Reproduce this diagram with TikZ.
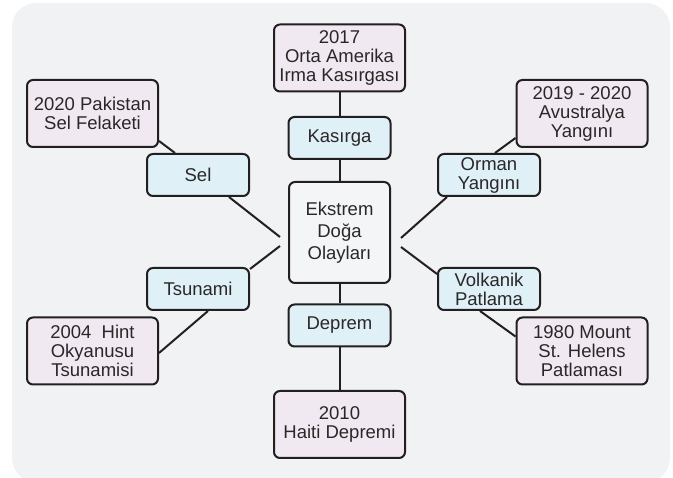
\documentclass[tikz,border=0pt]{standalone}
\usepackage{fontspec}
\setmainfont{Liberation Sans}
\definecolor{panel}{HTML}{F1F2F4}
\definecolor{ink}{HTML}{231F20}
\definecolor{txt}{HTML}{2A2728}
\definecolor{pinkfill}{HTML}{F0E9F1}
\definecolor{bluefill}{HTML}{DFF0F7}
\definecolor{centerfill}{HTML}{F4F5F7}
\tikzset{
  basebox/.style={draw=ink, line width=2pt, rounded corners=6pt, inner sep=0pt,
    align=center, text=txt, font=\fontsize{18.5}{19}\selectfont},
  eventbox/.style={basebox, fill=pinkfill, minimum width=131pt, minimum height=67pt},
  catbox/.style={basebox, fill=bluefill, minimum width=102pt, minimum height=42pt},
  hubbox/.style={basebox, fill=centerfill, minimum width=101pt, minimum height=101pt,
    font=\fontsize{18.5}{22}\selectfont},
  link/.style={draw=ink, line width=2pt}
}
\begin{document}
\begin{tikzpicture}[x=1pt,y=-1pt]
\useasboundingbox (0,0) rectangle (673,478);
\fill[panel, rounded corners=24pt] (12,3) rectangle (670,482);

\node[hubbox] (hub) at (339.5,232.5) {Ekstrem\\Doğa\\Olayları};

\node[catbox] (kas) at (339.5,138) {Kasırga};
\node[catbox] (dep) at (339.5,325.5) {Deprem};
\node[catbox] (sel) at (198,175) {Sel};
\node[catbox] (tsu) at (198,289) {Tsunami};
\node[catbox] (orm) at (489,175) {Orman\\Yangını};
\node[catbox] (vol) at (489,289) {Volkanik\\Patlama};

\node[eventbox] (irma) at (339.5,58) {2017\\Orta Amerika\\Irma Kasırgası};
\node[eventbox] (hai) at (339.5,424.5) {2010\\Haiti Depremi};
\node[eventbox] (pak) at (92.5,113.5) {2020 Pakistan\\Sel Felaketi};
\node[eventbox] (hin) at (92.5,351) {2004~~Hint\\Okyanusu\\Tsunamisi};
\node[eventbox] (avu) at (582,113.5) {2019 - 2020\\Avustralya\\Yangını};
\node[eventbox] (mou) at (582,351) {1980 Mount\\St. Helens\\Patlaması};

\coordinate (hubUL) at ([xshift=-8pt,yshift=-4.5pt]hub.west);
\coordinate (hubLL) at ([xshift=-8pt,yshift=-13.5pt]hub.west);
\coordinate (hubUR) at ([xshift=10pt,yshift=-5.5pt]hub.east);
\coordinate (hubLR) at ([xshift=10pt,yshift=-14.5pt]hub.east);

\draw[link] (irma.south) -- (kas.north);
\draw[link] (kas.south) -- (hub.north);
\draw[link] (hub.south) -- (dep.north);
\draw[link] (dep.south) -- (hai.north);

\draw[link] ([yshift=7pt]pak.south east) -- ([xshift=29pt]sel.north west);
\draw[link] ([xshift=-21pt]sel.south east) -- (hubUL);
\draw[link] ([yshift=-2pt]tsu.north east) -- (hubLL);
\draw[link] ([xshift=10pt]tsu.south) -- ([yshift=-2pt]hin.east);

\draw[link] ([yshift=10pt]avu.south west) -- ([xshift=6pt]orm.north);
\draw[link] ([xshift=10pt]orm.south west) -- (hubUR);
\draw[link] ([yshift=-7pt]vol.north west) -- (hubLR);
\draw[link] ([xshift=-9pt]vol.south) -- ([yshift=-20pt]mou.north west);
\end{tikzpicture}
\end{document}
